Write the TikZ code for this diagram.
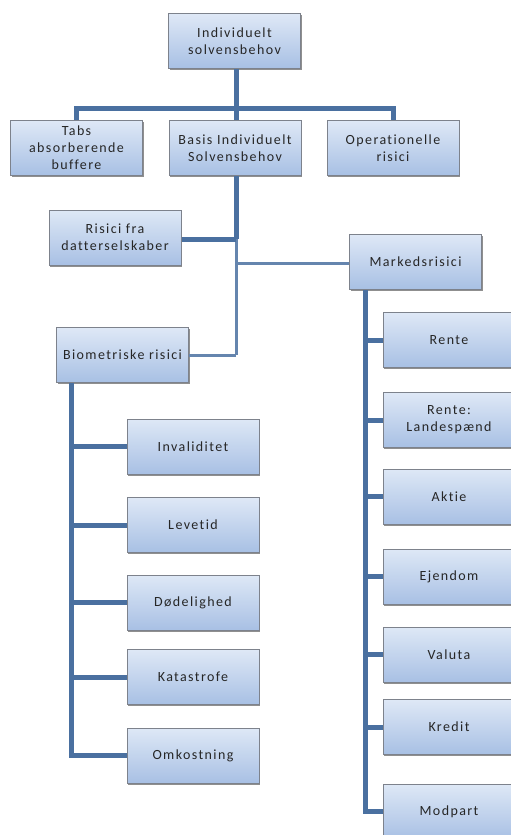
\documentclass[tikz,border=0pt]{standalone}
\usepackage{fontspec}
\setmainfont{Carlito}[LetterSpace=10,Ligatures=NoCommon]
\usetikzlibrary{shadows}
\definecolor{conncol}{RGB}{74,112,160}
\definecolor{boxtop}{RGB}{222,232,246}
\definecolor{boxbot}{RGB}{168,192,228}
\definecolor{boxline}{RGB}{125,130,140}
\tikzset{
  box/.style={draw=boxline, line width=1pt, top color=boxtop, bottom color=boxbot,
    minimum width=132pt, minimum height=55pt, align=center, inner sep=1pt,
    font=\fontsize{14}{17}\selectfont, text=black!85,
    drop shadow={shadow xshift=1pt, shadow yshift=-1.5pt, fill=black!55, opacity=0.8}},
  conn/.style={draw=conncol, line width=5pt},
  thinconn/.style={draw=conncol!85, line width=3pt},
}
\begin{document}
\begin{tikzpicture}[x=1pt,y=-1pt]
\useasboundingbox[fill=white] (0,0) rectangle (511,835);
\coordinate (j1) at (236,108);
\coordinate (j2) at (236,239);
\coordinate (j3) at (236,263);
\coordinate (j4) at (236,355);
\coordinate (ms) at (365,290);
\coordinate (bs) at (71,383);
% nodes
\node[box] (top) at (234.5,41) {Individuelt\\solvensbehov};
\node[box] (tabs) at (76.5,148) {Tabs\\absorberende\\buffere};
\node[box] (basis) at (235,148) {Basis Individuelt\\Solvensbehov};
\node[box] (oper) at (393,148) {Operationelle\\risici};
\node[box] (risici) at (115,237.5) {Risici fra\\datterselskaber};
\node[box] (marked) at (415.5,262) {Markedsrisici};
\node[box] (bio) at (122.5,355) {Biometriske risici};
\node[box] (inval) at (193,446.5) {Invaliditet};
\node[box] (leve) at (193,525) {Levetid};
\node[box] (dod) at (193,602.5) {Dødelighed};
\node[box] (kat) at (193,677) {Katastrofe};
\node[box] (omk) at (193,755.5) {Omkostning};
\node[box] (rente) at (449,340) {Rente};
\node[box] (rl) at (449,420) {Rente:\\Landespænd};
\node[box] (aktie) at (449,496.5) {Aktie};
\node[box] (ejen) at (449,576.5) {Ejendom};
\node[box] (valuta) at (449,654.5) {Valuta};
\node[box] (kredit) at (449,727) {Kredit};
\node[box] (modpart) at (449,811.5) {Modpart};
% connectors
\draw[conn] (top.south -| j1) -- (j1);
\draw[conn] (tabs.north) |- (j1) -| (oper.north);
\draw[conn] (j1) -- (basis.north -| j1);
\draw[conn] (basis.south -| j1) -- (j2);
\draw[thinconn] (j2) -- (j4);
\draw[conn] (risici.east |- j2) -- (j2);
\draw[thinconn] (j3) -- (marked.west |- j3);
\draw[thinconn] (j4) -- (bio.east);
\draw[conn] (ms) |- (modpart.west);
\foreach \b in {rente,rl,aktie,ejen,valuta,kredit}
  \draw[conn] (\b.west -| ms) -- (\b.west);
\draw[conn] (bs) |- (omk.west);
\foreach \b in {inval,leve,dod,kat}
  \draw[conn] (\b.west -| bs) -- (\b.west);
\end{tikzpicture}
\end{document}
